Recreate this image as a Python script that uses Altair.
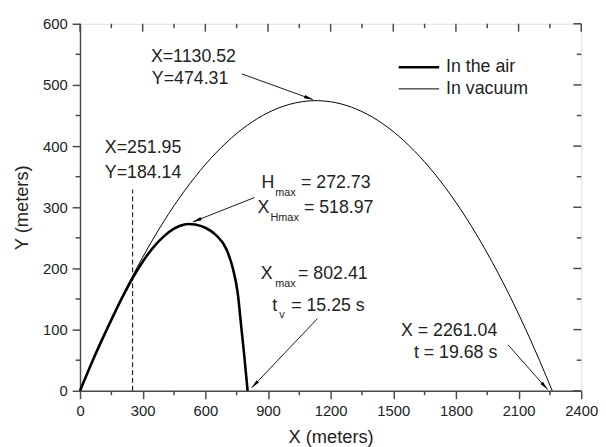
import math
import altair as alt
import pandas as pd

# ---------------- data ----------------
x_air = [0, 50, 100, 150, 200, 251.95, 300, 350, 400, 450, 500, 518.97,
         550, 600, 650, 700, 732, 755, 772, 788, 802.41]
y_air = [0, 41, 79.5, 116, 151, 184.14, 211, 234, 252, 265, 272, 272.73,
         271.7, 266.5, 255, 232, 200, 160, 105, 52, 0]

x_vac = [0, 100, 200, 300, 400, 500, 600, 700, 800, 900, 1000, 1130.52,
         1200, 1300, 1400, 1500, 1600, 1700, 1800, 1900, 2000, 2100, 2200, 2261.04]
y_vac = [0, 80.2, 153.0, 218.3, 276.3, 326.8, 369.9, 405.5, 433.8, 454.6, 468.0, 474.31,
         472.5, 463.6, 447.4, 423.7, 392.5, 354.0, 308.0, 254.6, 193.7, 125.5, 49.8, 0]

series_names = ["In the air", "In vacuum"]

x_major = [0, 300, 600, 900, 1200, 1500, 1800, 2100, 2400]
x_minor = [150, 450, 750, 1050, 1350, 1650, 1950, 2250]
y_major = [0, 100, 200, 300, 400, 500, 600]
y_minor = [50, 150, 250, 350, 450, 550]

# annotation texts (anchor points in data units)
center_text = ["X=1130.52", "Y=474.31", "X=251.95", "Y=184.14"]
center_x = [543, 527, 302, 302]
center_y = [545, 510, 397, 356]

right_text = ["X = 2261.04", "t = 19.68 s"]
right_x = [1998, 1998]
right_y = [97, 61]

left_text = ["H", "max", "= 272.73", "X", "Hmax", "= 518.97",
             "X", "max", "= 802.41", "t", "v", "= 15.25 s"]
left_x = [869, 935, 1058, 850, 912, 1072, 865, 935, 1044, 921, 954, 1011]
left_y = [340, 324, 340, 298, 282, 298, 190, 174, 190, 139, 124, 139]
left_sub = [0, 1, 0, 0, 1, 0, 0, 1, 0, 0, 1, 0]

# arrows: start -> end (data units)
arr_x1 = [775, 836, 1137, 2050]
arr_y1 = [518, 316, 118, 75]
arr_x2 = [1115, 540, 822, 2239]
arr_y2 = [476, 276, 5, 2]

dash_x = 251.95
dash_top = 329

# ---------------- layout / style ----------------
W, H = 508, 372
XMAX, YMAX = 2400, 600
FONT = "Liberation Sans"
AX = "#4a4a4a"
TXT = "#222222"
BIG = 18
SMALL = 11
LW_AIR, LW_VAC = 2.6, 1.0

# legend layout (pixels inside the plot area)
LEG_X0, LEG_X1, LEG_TX = 323, 364, 371
LEG_Y = [44, 66]

xs = alt.Scale(domain=[0, XMAX], nice=False, zero=False)
ys = alt.Scale(domain=[0, YMAX], nice=False, zero=False)

curves = pd.DataFrame({
    "x": x_air + x_vac,
    "y": y_air + y_vac,
    "series": [series_names[0]] * len(x_air) + [series_names[1]] * len(x_vac),
})

common_axis = dict(tickSize=8, tickWidth=1.5, tickColor=AX, domainColor=AX, domainWidth=1.5,
                   labelFontSize=15, labelFont=FONT, labelColor=TXT, labelPadding=5,
                   grid=False, format="d", labelFlush=False, labelOverlap=False,
                   titleFontSize=18.5, titleFont=FONT, titleFontWeight="normal",
                   titleColor=TXT, titleBaseline="alphabetic")
xaxis = alt.Axis(values=x_major, titleY=52, titleX=W / 2, **common_axis)
yaxis = alt.Axis(values=y_major, titleX=-53, titleY=H / 2, titleAngle=270, **common_axis)

lines = alt.Chart(curves).mark_line(interpolate="monotone", color="black").encode(
    x=alt.X("x:Q", scale=xs, axis=xaxis, title="X (meters)"),
    y=alt.Y("y:Q", scale=ys, axis=yaxis, title="Y (meters)"),
    strokeWidth=alt.StrokeWidth(
        "series:N",
        scale=alt.Scale(domain=series_names, range=[LW_AIR, LW_VAC]),
        legend=None,
    ),
)

# manual legend
leg_df = pd.DataFrame({"series": series_names, "ly": LEG_Y})
leg_lines = alt.Chart(leg_df).mark_rule(color="black").encode(
    x=alt.value(LEG_X0), x2=alt.value(LEG_X1),
    y=alt.Y("ly:Q", scale=None),
    strokeWidth=alt.StrokeWidth("series:N",
                                scale=alt.Scale(domain=series_names, range=[LW_AIR, LW_VAC]),
                                legend=None),
)
leg_text = alt.Chart(leg_df).mark_text(align="left", baseline="middle", font=FONT,
                                       fontSize=BIG, color=TXT).encode(
    x=alt.value(LEG_TX), y=alt.Y("ly:Q", scale=None), text="series:N")

# dashed vertical marker
dash = alt.Chart(pd.DataFrame({"x": [dash_x], "y": [0], "y2": [dash_top]})).mark_rule(
    color="black", strokeWidth=1, strokeDash=[5, 3]
).encode(x=alt.X("x:Q", scale=xs), y=alt.Y("y:Q", scale=ys), y2="y2:Q")

# arrows
ang = []
for a, b, c, d in zip(arr_x1, arr_y1, arr_x2, arr_y2):
    dxp = (c - a) * W / XMAX
    dyp = -(d - b) * H / YMAX
    ang.append(math.degrees(math.atan2(dxp, -dyp)) % 360)
arrows_df = pd.DataFrame({"x1": arr_x1, "y1": arr_y1, "x2": arr_x2, "y2": arr_y2, "ang": ang})
arrow_lines = alt.Chart(arrows_df).mark_rule(color="black", strokeWidth=0.9).encode(
    x=alt.X("x1:Q", scale=xs), y=alt.Y("y1:Q", scale=ys), x2="x2:Q", y2="y2:Q")
arrow_heads = alt.Chart(arrows_df).mark_point(
    shape="M0,0L-0.38,2L0.38,2Z", filled=True, color="black", size=81, opacity=1
).encode(x=alt.X("x2:Q", scale=xs), y=alt.Y("y2:Q", scale=ys),
         angle=alt.Angle("ang:Q", scale=None))

# texts
cdf = pd.DataFrame({"x": center_x, "y": center_y, "t": center_text})
ctext = alt.Chart(cdf).mark_text(align="center", baseline="middle", font=FONT,
                                 fontSize=BIG, color=TXT).encode(
    x=alt.X("x:Q", scale=xs), y=alt.Y("y:Q", scale=ys), text="t:N")
rdf = pd.DataFrame({"x": right_x, "y": right_y, "t": right_text})
rtext = alt.Chart(rdf).mark_text(align="right", baseline="middle", font=FONT,
                                 fontSize=BIG, color=TXT).encode(
    x=alt.X("x:Q", scale=xs), y=alt.Y("y:Q", scale=ys), text="t:N")
ldf = pd.DataFrame({"x": left_x, "y": left_y, "t": left_text,
                    "fs": [SMALL if s else BIG for s in left_sub]})
ltext = alt.Chart(ldf).mark_text(align="left", baseline="middle", font=FONT,
                                 color=TXT).encode(
    x=alt.X("x:Q", scale=xs), y=alt.Y("y:Q", scale=ys), text="t:N",
    size=alt.Size("fs:Q", scale=None))

# minor ticks and mirrored ticks on top / right
def xticks(vals, y0, y1):
    return alt.Chart(pd.DataFrame({"v": vals})).mark_rule(color=AX, strokeWidth=1.5).encode(
        x=alt.X("v:Q", scale=xs), y=alt.value(y0), y2=alt.value(y1))

def yticks(vals, x0, x1):
    return alt.Chart(pd.DataFrame({"v": vals})).mark_rule(color=AX, strokeWidth=1.5).encode(
        y=alt.Y("v:Q", scale=ys), x=alt.value(x0), x2=alt.value(x1))

tick_layers = [
    xticks(x_minor, H, H + 4.5),      # bottom minor, outward
    xticks(x_major, 0, 8),            # top major, inward
    xticks(x_minor, 0, 4.5),          # top minor, inward
    yticks(y_minor, 0, -4.5),         # left minor, outward
    yticks(y_major, W, W - 8),        # right major, inward
    yticks(y_minor, W, W - 4.5),      # right minor, inward
]

chart = alt.layer(
    lines, dash, arrow_lines, arrow_heads, ctext, rtext, ltext, leg_lines, leg_text,
    *tick_layers
).properties(
    width=W, height=H,
    autosize=alt.AutoSizeParams(type="none"),
    padding={"left": 73, "top": 13, "right": 17, "bottom": 54},
).configure_view(stroke=AX, strokeWidth=1.5).configure(background="white")

chart.save("out.html", embed_options={"renderer": "svg", "actions": False})
